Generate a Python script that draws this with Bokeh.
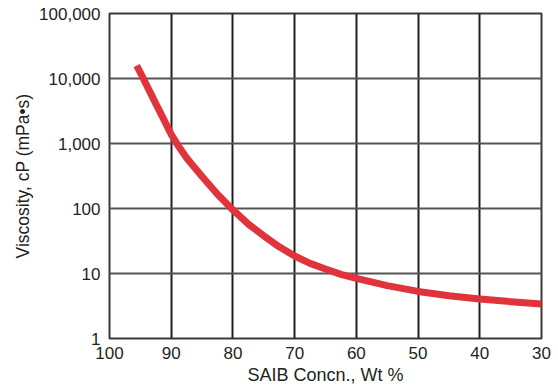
from bokeh.plotting import figure
from bokeh.models import Range1d, FixedTicker, NumeralTickFormatter, ColumnDataSource
from bokeh.embed import file_html
from bokeh.resources import INLINE

# Data
saib_wt = [95.6, 95, 92.5, 91.25, 90, 88.75, 87.5, 85, 82.5, 80, 77.5, 75, 72.5,
           70, 67.5, 65, 62.5, 60, 55, 50, 45, 40, 35, 30]
viscosity_cp = [15800, 12300, 4100, 2390, 1380, 890, 600, 310, 166, 95, 57.5, 38, 25.7,
                18.6, 14.3, 11.7, 9.7, 8.4, 6.5, 5.3, 4.56, 4.06, 3.69, 3.4]

x_ticks = [100, 90, 80, 70, 60, 50, 40, 30]
y_ticks = [1, 10, 100, 1000, 10000, 100000]

FONT = "Liberation Sans"
TEXT = "#231f20"

p = figure(
    width=556, height=387,
    x_range=Range1d(100, 30), y_range=Range1d(1, 100000),
    y_axis_type="log",
    output_backend="svg", toolbar_location=None,
    min_border_left=109, min_border_right=15, min_border_top=13, min_border_bottom=49,
    background_fill_color="white", border_fill_color="white",
)

src = ColumnDataSource(dict(x=saib_wt, y=viscosity_cp))
p.line("x", "y", source=src, line_color="#e0333c", line_width=7, line_cap="butt", line_join="round")

# axes
p.xaxis.ticker = FixedTicker(ticks=x_ticks)
p.yaxis.ticker = FixedTicker(ticks=y_ticks)
p.yaxis.formatter = NumeralTickFormatter(format="0,0")
p.xaxis.formatter = NumeralTickFormatter(format="0")

for ax in (p.xaxis, p.yaxis):
    ax.axis_line_color = None
    ax.major_tick_line_color = None
    ax.minor_tick_line_color = None
    ax.major_tick_out = 0
    ax.major_tick_in = 0
    ax.minor_tick_out = 0
    ax.minor_tick_in = 0
    ax.major_label_text_font = FONT
    ax.major_label_text_font_size = "17px"
    ax.major_label_text_color = TEXT
    ax.axis_label_text_font = FONT
    ax.axis_label_text_font_style = "normal"
    ax.axis_label_text_color = TEXT

p.xaxis.axis_label_text_font_size = "18px"
p.yaxis.axis_label_text_font_size = "17.5px"
p.xaxis.axis_label = "SAIB Concn., Wt %"
p.yaxis.axis_label = "Viscosity, cP (mPa•s)"
p.xaxis.major_label_standoff = 8
p.yaxis.major_label_standoff = 9
p.xaxis.axis_label_standoff = 3
p.yaxis.axis_label_standoff = 3

# grids
p.xgrid.ticker = FixedTicker(ticks=x_ticks)
p.ygrid.ticker = FixedTicker(ticks=y_ticks)
p.xgrid.grid_line_color = "#231f20"
p.xgrid.grid_line_width = 2
p.ygrid.grid_line_color = "#555555"
p.ygrid.grid_line_width = 2
p.xgrid.minor_grid_line_color = None
p.ygrid.minor_grid_line_color = None

p.outline_line_color = "#3a3a3a"
p.outline_line_width = 2
p.outline_line_alpha = 1

open("out.html", "w").write(file_html(p, INLINE))
